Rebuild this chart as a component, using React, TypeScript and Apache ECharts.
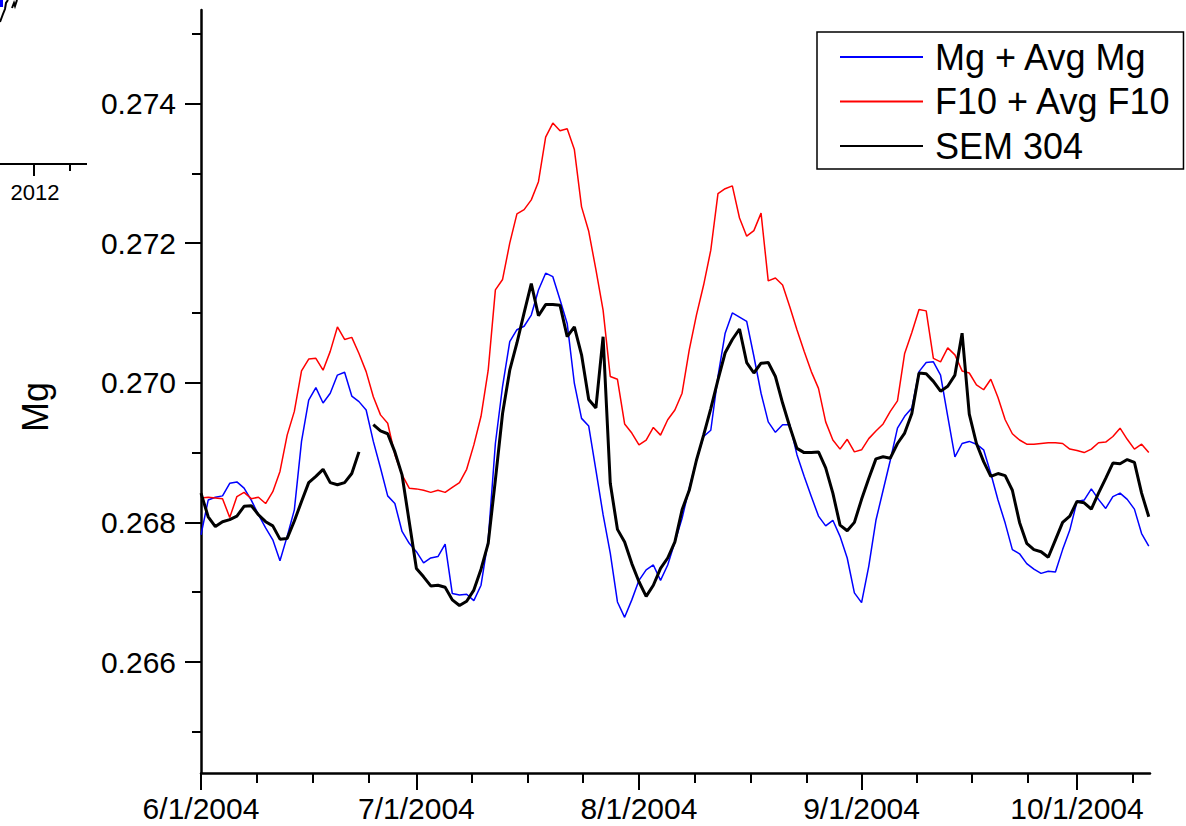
import React, { useEffect, useRef } from "react";
import * as echarts from "echarts";

// x values are day offsets from 6/1/2004
const majorTickDays = [0, 30, 61, 92, 122];
const majorTickLabels = ["6/1/2004", "7/1/2004", "8/1/2004", "9/1/2004", "10/1/2004"];
const minorTickDays = [7.8, 15.5, 23.3, 37.7, 45.5, 53.2, 68.7, 76.5, 84.3, 99.7, 107.4, 115.2, 129.7];
const yMajorTicks = [0.266, 0.268, 0.27, 0.272, 0.274];
const yMinorTicks = [0.265, 0.267, 0.269, 0.271, 0.273, 0.275];
const seriesNames = ["Mg + Avg Mg", "F10 + Avg F10", "SEM 304"];

const mgAvg = [
  0.26782, 0.26832, 0.26836, 0.26838, 0.26856, 0.26858, 0.26849, 0.26832, 0.26811, 0.26792,
  0.26775, 0.26745, 0.26780, 0.26818, 0.26916, 0.26975, 0.26993, 0.26971, 0.26985, 0.27011,
  0.27015, 0.26981, 0.26973, 0.26961, 0.26916, 0.26878, 0.26838, 0.26827, 0.26787, 0.26770,
  0.26758, 0.26742, 0.26749, 0.26751, 0.26769, 0.26698, 0.26696, 0.26697, 0.26688, 0.26710,
  0.26775, 0.26913, 0.26995, 0.27059, 0.27076, 0.27081, 0.27097, 0.27133, 0.27157, 0.27152,
  0.27119, 0.27085, 0.26999, 0.26949, 0.26938, 0.26875, 0.26811, 0.26756, 0.26686, 0.26664,
  0.26689, 0.26717, 0.26732, 0.26739, 0.26717, 0.26739, 0.26772, 0.26806, 0.26849, 0.26889,
  0.26923, 0.26932, 0.27009, 0.27071, 0.27100, 0.27094, 0.27088, 0.27038, 0.26985, 0.26944,
  0.26929, 0.26940, 0.26940, 0.26897, 0.26866, 0.26837, 0.26809, 0.26795, 0.26803, 0.26780,
  0.26749, 0.26699, 0.26685, 0.26737, 0.26803, 0.26846, 0.26889, 0.26935, 0.26952, 0.26964,
  0.27016, 0.27029, 0.27030, 0.27011, 0.26952, 0.26894, 0.26913, 0.26916, 0.26912, 0.26904,
  0.26870, 0.26832, 0.26799, 0.26761, 0.26755, 0.26741, 0.26733, 0.26727, 0.26730, 0.26729,
  0.26761, 0.26789, 0.26830, 0.26832, 0.26848, 0.26833, 0.26820, 0.26837, 0.26842, 0.26833,
  0.26819, 0.26784, 0.26766,
];

const f10Avg = [
  0.26835, 0.26836, 0.26835, 0.26834, 0.26807, 0.26837, 0.26843, 0.26834, 0.26836, 0.26827,
  0.26844, 0.26873, 0.26925, 0.26959, 0.27017, 0.27034, 0.27035, 0.27018, 0.27045, 0.27080,
  0.27062, 0.27065, 0.27042, 0.27016, 0.26980, 0.26954, 0.26942, 0.26897, 0.26868, 0.26849,
  0.26848, 0.26846, 0.26843, 0.26846, 0.26843, 0.26850, 0.26857, 0.26876, 0.26911, 0.26952,
  0.27018, 0.27133, 0.27148, 0.27200, 0.27242, 0.27248, 0.27262, 0.27288, 0.27352, 0.27372,
  0.27361, 0.27364, 0.27334, 0.27252, 0.27217, 0.27162, 0.27104, 0.27009, 0.27005, 0.26941,
  0.26928, 0.26911, 0.26918, 0.26936, 0.26925, 0.26947, 0.26961, 0.26985, 0.27047, 0.27097,
  0.27140, 0.27190, 0.27271, 0.27278, 0.27282, 0.27236, 0.27210, 0.27218, 0.27243, 0.27146,
  0.27150, 0.27140, 0.27109, 0.27076, 0.27045, 0.27016, 0.26992, 0.26944, 0.26918, 0.26905,
  0.26919, 0.26901, 0.26904, 0.26920, 0.26931, 0.26941, 0.26959, 0.26974, 0.27042, 0.27072,
  0.27105, 0.27103, 0.27035, 0.27030, 0.27050, 0.27040, 0.27017, 0.27014, 0.26997, 0.26990,
  0.27005, 0.26979, 0.26947, 0.26927, 0.26918, 0.26912, 0.26912, 0.26913, 0.26914, 0.26914,
  0.26913, 0.26905, 0.26903, 0.26900, 0.26905, 0.26914, 0.26915, 0.26923, 0.26935, 0.26919,
  0.26905, 0.26912, 0.26900,
];

const sem304 = [
  0.26842, 0.26808, 0.26794, 0.26801, 0.26804, 0.26809, 0.26823, 0.26824, 0.26811, 0.26801,
  0.26795, 0.26776, 0.26777, 0.26802, 0.26830, 0.26857, 0.26866, 0.26876, 0.26857, 0.26854,
  0.26857, 0.26870, 0.26901, null, 0.26940, 0.26931, 0.26927, 0.26901, 0.26868, 0.26801,
  0.26734, 0.26722, 0.26709, 0.26710, 0.26707, 0.26689, 0.26681, 0.26687, 0.26703, 0.26733,
  0.26770, 0.26861, 0.26956, 0.27018, 0.27057, 0.27100, 0.27142, 0.27096, 0.27112, 0.27112,
  0.27111, 0.27066, 0.27080, 0.27040, 0.26976, 0.26964, 0.27066, 0.26856, 0.26790, 0.26772,
  0.26741, 0.26715, 0.26694, 0.26710, 0.26734, 0.26749, 0.26772, 0.26818, 0.26846, 0.26889,
  0.26925, 0.26963, 0.27004, 0.27043, 0.27062, 0.27077, 0.27029, 0.27014, 0.27028, 0.27029,
  0.27009, 0.26971, 0.26937, 0.26906, 0.26900, 0.26900, 0.26901, 0.26878, 0.26842, 0.26796,
  0.26788, 0.26800, 0.26833, 0.26863, 0.26891, 0.26894, 0.26892, 0.26913, 0.26928, 0.26956,
  0.27014, 0.27013, 0.27002, 0.26988, 0.26995, 0.27011, 0.27071, 0.26955, 0.26913, 0.26887,
  0.26866, 0.26870, 0.26867, 0.26846, 0.26800, 0.26770, 0.26761, 0.26758, 0.26750, 0.26775,
  0.26800, 0.26809, 0.26830, 0.26828, 0.26819, 0.26842, 0.26863, 0.26885, 0.26884, 0.26890,
  0.26886, 0.26842, 0.26808,
];

const FONT = "'Liberation Sans', Arial, Helvetica, sans-serif";
const X_MIN = 0;
const X_MAX = 132.17;
const Y_MIN = 0.26441;
const Y_MAX = 0.27534;

const toPairs = (arr: (number | null)[]) =>
  arr.map((v, i) => [i, v === null ? "-" : v]);

export default function App() {
  const ref = useRef<HTMLDivElement>(null);

  useEffect(() => {
    if (!ref.current) return;
    const chart = echarts.init(ref.current, undefined, { renderer: "svg" });

    const tickLine = { color: "#000", width: 2 };

    const option: any = {
      animation: false,
      backgroundColor: "#fff",
      grid: { left: 201, top: 10, right: 36, bottom: 53 },
      legend: {
        orient: "vertical",
        left: 817,
        top: 32,
        padding: [5, 12, 3, 23],
        itemWidth: 83,
        itemHeight: 2,
        itemGap: 4.5,
        borderColor: "#000",
        borderWidth: 1.5,
        backgroundColor: "#fff",
        data: seriesNames.map((name) => ({ name, icon: "rect" })),
        textStyle: {
          fontSize: 36,
          fontFamily: FONT,
          color: "#000",
          lineHeight: 40,
          padding: [0, 0, 0, 7],
        },
      },
      xAxis: [
        {
          type: "value",
          position: "bottom",
          min: X_MIN,
          max: X_MAX,
          axisLine: { show: true, onZero: false, lineStyle: { color: "#000", width: 2.5 } },
          axisTick: { show: true, customValues: majorTickDays, length: 17, lineStyle: tickLine },
          axisLabel: {
            customValues: majorTickDays,
            formatter: (v: number) => {
              const idx = majorTickDays.indexOf(Math.round(v));
              return idx >= 0 ? majorTickLabels[idx] : "";
            },
            fontSize: 30,
            fontFamily: FONT,
            color: "#000",
            margin: 20,
          },
          splitLine: { show: false },
        },
        {
          type: "value",
          position: "bottom",
          min: X_MIN,
          max: X_MAX,
          axisLine: { show: false, onZero: false },
          axisTick: { show: true, customValues: minorTickDays, length: 10, lineStyle: tickLine },
          axisLabel: { show: false },
          splitLine: { show: false },
        },
      ],
      yAxis: [
        {
          type: "value",
          position: "left",
          min: Y_MIN,
          max: Y_MAX,
          axisLine: { show: true, onZero: false, lineStyle: { color: "#000", width: 2.5 } },
          axisTick: { show: true, customValues: yMajorTicks, length: 16, lineStyle: tickLine },
          axisLabel: {
            customValues: yMajorTicks,
            formatter: (v: number) => v.toFixed(3),
            fontSize: 30,
            fontFamily: FONT,
            color: "#000",
            margin: 25,
          },
          splitLine: { show: false },
        },
        {
          type: "value",
          position: "left",
          min: Y_MIN,
          max: Y_MAX,
          axisLine: { show: false, onZero: false },
          axisTick: { show: true, customValues: yMinorTicks, length: 9, lineStyle: tickLine },
          axisLabel: { show: false },
          splitLine: { show: false },
        },
      ],
      series: [
        {
          name: seriesNames[0],
          type: "line",
          data: toPairs(mgAvg),
          showSymbol: false,
          symbol: "none",
          lineStyle: { color: "#0000ff", width: 1.5 },
          itemStyle: { color: "#0000ff" },
        },
        {
          name: seriesNames[1],
          type: "line",
          data: toPairs(f10Avg),
          showSymbol: false,
          symbol: "none",
          lineStyle: { color: "#ff0000", width: 1.5 },
          itemStyle: { color: "#ff0000" },
        },
        {
          name: seriesNames[2],
          type: "line",
          data: toPairs(sem304),
          showSymbol: false,
          symbol: "none",
          connectNulls: false,
          lineStyle: { color: "#000000", width: 3 },
          itemStyle: { color: "#000000" },
        },
      ],
      graphic: [
        {
          type: "text",
          x: 35,
          y: 407,
          rotation: Math.PI / 2,
          style: {
            text: "Mg",
            fontSize: 36,
            fontFamily: FONT,
            fill: "#000",
            align: "center",
            verticalAlign: "middle",
          },
        },
        // cropped inset fragment at top-left
        {
          type: "line",
          shape: { x1: 0, y1: 164, x2: 87, y2: 164 },
          style: { stroke: "#000", lineWidth: 2 },
        },
        {
          type: "line",
          shape: { x1: 34, y1: 164, x2: 34, y2: 176 },
          style: { stroke: "#000", lineWidth: 2 },
        },
        {
          type: "line",
          shape: { x1: 70, y1: 164, x2: 70, y2: 171 },
          style: { stroke: "#000", lineWidth: 2 },
        },
        {
          type: "text",
          x: 35,
          y: 192,
          style: {
            text: "2012",
            fontSize: 22,
            fontFamily: FONT,
            fill: "#000",
            align: "center",
            verticalAlign: "middle",
          },
        },
        {
          type: "rect",
          shape: { x: 0, y: 0, width: 3, height: 7 },
          style: { fill: "#0000ff" },
        },
        {
          type: "polyline",
          shape: { points: [[0, 22], [3, 14], [5, 9], [6, 3], [8, 0]] },
          style: { stroke: "#000", lineWidth: 2, fill: null },
        },
        {
          type: "polyline",
          shape: { points: [[12, 8], [14, 3], [15, 6], [17, 0]] },
          style: { stroke: "#000", lineWidth: 2, fill: null },
        },
      ],
    };

    chart.setOption(option);
    return () => chart.dispose();
  }, []);

  return (
    <div
      ref={ref}
      style={{ position: "fixed", left: 0, top: 0, width: 1186, height: 826, background: "#fff" }}
    />
  );
}
